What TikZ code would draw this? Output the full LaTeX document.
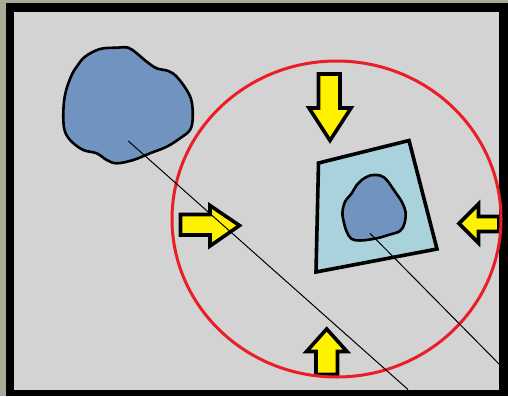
\documentclass[tikz,border=0pt]{standalone}
\usetikzlibrary{calc}
\definecolor{outerbg}{RGB}{166,173,150}
\definecolor{innerbg}{RGB}{211,211,211}
\definecolor{blobblue}{RGB}{112,147,192}
\definecolor{quadblue}{RGB}{170,210,220}
\definecolor{arrowyellow}{RGB}{255,242,0}
\definecolor{ringred}{RGB}{235,30,40}
\tikzset{
  blob/.style={draw=black,fill=blobblue,line width=2.6pt,line join=round},
  quadshape/.style={draw=black,fill=quadblue,line width=3.6pt,line join=miter},
  fatarrow/.style={draw=black,fill=arrowyellow,line width=3.6pt,line join=miter},
  ring/.style={draw=ringred,line width=3pt},
  ray/.style={draw=black,line width=1pt}
}
\begin{document}
\begin{tikzpicture}[x=1pt,y=-1pt]
\useasboundingbox (0,0) rectangle (508,396);
% background and frame
\fill[outerbg] (0,0) rectangle (508,396);
\fill[black] (6,3) rectangle (508,396);
\fill[innerbg] (14,12.5) rectangle (499,389.5);
% big blob
\path[blob] plot[smooth cycle,tension=0.6] coordinates {
 (85,56.7) (100,49) (116.7,47.7) (128.3,47.7) (136.7,53.3) (146.7,61.7)
 (156.7,68.3) (168.3,71) (176.7,76.7) (186.7,90) (191.7,101.7) (192.7,118.3)
 (190,130) (180,138.3) (166.7,146.7) (150,153.3) (133.3,160) (116.7,163.3)
 (106.7,160) (96.7,153.3) (83.3,150) (71.7,141.7) (65,131.7) (63.3,118.3)
 (64,101.7) (66.7,88.3) (71.7,75) (76.7,66.7)};
% quadrilateral
\path[quadshape] (318.5,163) -- (409,140.5) -- (437,249) -- (316,272) -- cycle;
% small blob
\path[blob] plot[smooth cycle,tension=0.6] coordinates {
 (361.7,180) (370,175.5) (380,175.5) (386.7,180) (395,191.7) (401.7,201.7)
 (405.5,211.7) (404.5,223.3) (400,231) (390,234.5) (380,237.5) (370,239.5)
 (360,240.5) (351.7,239) (346.7,231.7) (343.3,220) (342.5,211.7) (345,201.7)
 (351.7,193.3) (356.7,185)};
% arrows
% top (pointing down)
\path[fatarrow] (318.5,74) -- (340,74) -- (340,108) -- (351,108) -- (330,140.5)
  -- (309,108) -- (318.5,108) -- cycle;
% bottom (pointing up)
\path[fatarrow] (326.7,329) -- (347,351.5) -- (337.5,351.5) -- (337.5,374.5)
  -- (316,374.5) -- (316,351.5) -- (306.5,351.5) -- cycle;
% left (pointing right)
\path[fatarrow] (180.5,214.5) -- (210,214.5) -- (210,205.5) -- (239.5,225.5)
  -- (210,246) -- (210,235) -- (180.5,235) -- cycle;
% right (pointing left)
\path[fatarrow] (459,223.5) -- (478.5,204) -- (478.5,216.5) -- (499,216.5)
  -- (499,231.5) -- (478.5,231.5) -- (478.5,243) -- cycle;
% red ring
\draw[ring] (336.5,219) ellipse [x radius=164.5, y radius=158];
% rays
\coordinate (r1a) at (128.3,141);
\coordinate (r1b) at (408,389.5);
\coordinate (r2a) at (370,233.3);
\coordinate (r2b) at (499,364);
\draw[ray] (r1a) -- (r1b);
\draw[ray] (r2a) -- (r2b);
\end{tikzpicture}
\end{document}
